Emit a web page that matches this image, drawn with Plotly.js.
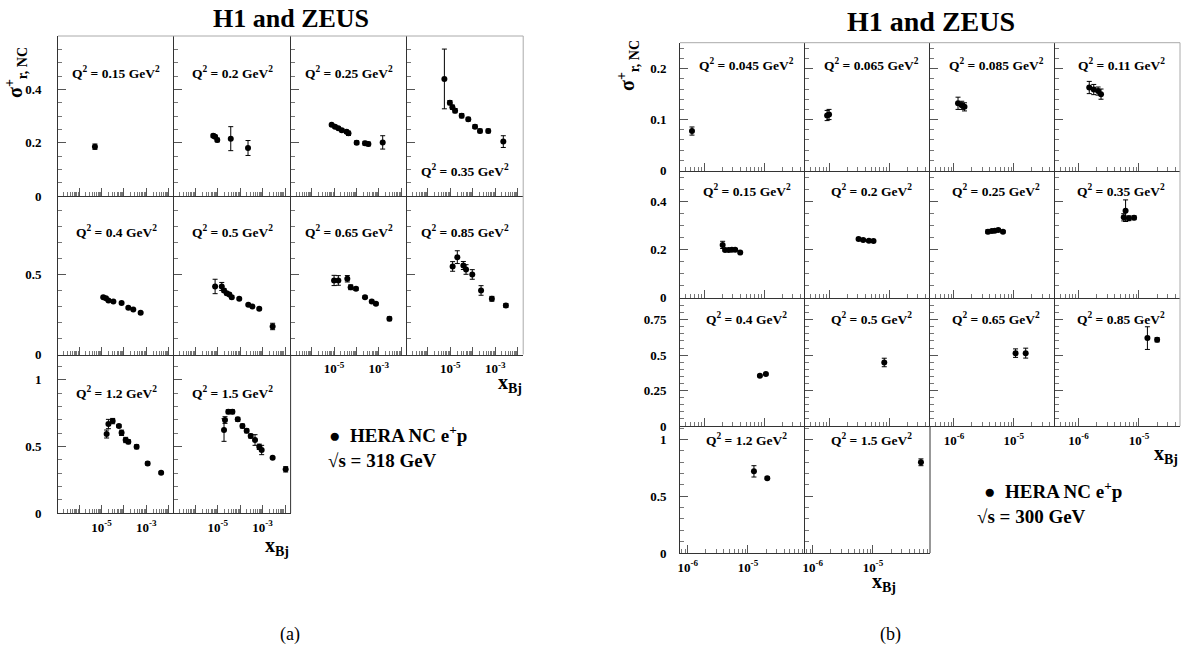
<!DOCTYPE html>
<html><head><meta charset="utf-8">
<script src="https://cdn.plot.ly/plotly-3.0.1.min.js"></script>
<style>html,body{margin:0;padding:0;background:#fff}#chart{width:1183px;height:652px}</style>
</head><body><div id="chart"></div>
<script>
// ---------- DATA : panel (a) sqrt(s)=318 GeV ----------
const a015_x=[5.1e-6], a015_y=[0.185], a015_e=[0.01];
const a02_x=[6.3e-6,7.6e-6,9.5e-6,3.8e-5,2.24e-4], a02_y=[0.226,0.222,0.21,0.215,0.18], a02_e=[0.006,0.006,0.007,0.045,0.028];
const a025_x=[7.8e-6,1.1e-5,1.55e-5,2.2e-5,3.6e-5,4.4e-5,1.02e-4,2.4e-4,3.4e-4,1.48e-3], a025_y=[0.267,0.26,0.254,0.247,0.241,0.235,0.2,0.198,0.195,0.201], a025_e=[0.005,0.005,0.005,0.006,0.006,0.008,0.007,0.007,0.007,0.025];
const a035_x=[5.4e-6,9.5e-6,1.23e-5,1.62e-5,3.2e-5,6.3e-5,1.26e-4,2.1e-4,4.9e-4,2.3e-3], a035_y=[0.439,0.35,0.333,0.32,0.301,0.288,0.26,0.244,0.244,0.204], a035_e=[0.112,0.008,0.008,0.008,0.008,0.007,0.007,0.007,0.007,0.022];
const a04_x=[1.2e-5,1.58e-5,2.04e-5,3.4e-5,7.9e-5,1.58e-4,2.63e-4,5.6e-4], a04_y=[0.358,0.352,0.338,0.331,0.321,0.292,0.281,0.26], a04_e=[0.006,0.006,0.006,0.006,0.006,0.006,0.006,0.006];
const a05_x=[7.6e-6,1.51e-5,1.9e-5,2.5e-5,3.3e-5,4.2e-5,9.1e-5,2.3e-4,3.5e-4,7.1e-4,2.8e-3], a05_y=[0.425,0.425,0.4,0.383,0.375,0.358,0.348,0.31,0.3,0.285,0.175], a05_e=[0.045,0.025,0.01,0.01,0.008,0.01,0.006,0.006,0.006,0.006,0.02];
const a065_x=[1.0e-5,1.55e-5,3.9e-5,5.5e-5,9.5e-5,2.4e-4,4.8e-4,7.4e-4,2.95e-3], a065_y=[0.4625,0.4625,0.473,0.42,0.41,0.358,0.331,0.317,0.223], a065_e=[0.032,0.03,0.02,0.015,0.01,0.008,0.008,0.008,0.012];
const a085_x=[1.26e-5,2.04e-5,3.8e-5,5.0e-5,9.5e-5,2.34e-4,7.1e-4,3.0e-3], a085_y=[0.55,0.608,0.556,0.531,0.5,0.4,0.348,0.306], a085_e=[0.03,0.04,0.025,0.03,0.03,0.03,0.015,0.012];
const a12_x=[1.7e-5,2.04e-5,3.16e-5,6.0e-5,7.9e-5,1.2e-4,1.58e-4,3.7e-4,1.15e-3,4.6e-3], a12_y=[0.593,0.668,0.69,0.653,0.602,0.548,0.535,0.497,0.372,0.302], a12_e=[0.03,0.035,0.02,0.01,0.02,0.02,0.015,0.015,0.012,0.008];
const a15_x=[1.9e-5,2.1e-5,2.95e-5,4.5e-5,7.8e-5,1.26e-4,1.95e-4,2.95e-4,4.6e-4,7.1e-4,9.1e-4,2.8e-3,1.07e-2], a15_y=[0.623,0.698,0.76,0.76,0.703,0.653,0.617,0.578,0.548,0.497,0.473,0.415,0.328], a15_e=[0.085,0.025,0.015,0.015,0.015,0.015,0.015,0.015,0.04,0.02,0.035,0.008,0.02];
// ---------- DATA : panel (b) sqrt(s)=300 GeV ----------
const b0045_x=[6.3e-7], b0045_y=[0.0775], b0045_e=[0.008];
const b0065_x=[9.3e-7,1.0e-6], b0065_y=[0.108,0.11], b0065_e=[0.01,0.01];
const b0085_x=[1.17e-6,1.35e-6,1.5e-6], b0085_y=[0.132,0.128,0.125], b0085_e=[0.012,0.008,0.008];
const b011_x=[1.5e-6,1.78e-6,2.1e-6,2.35e-6], b011_y=[0.163,0.159,0.156,0.15], b011_e=[0.012,0.01,0.008,0.01];
const b015_x=[2.04e-6,2.24e-6,2.57e-6,2.9e-6,3.3e-6,4.0e-6], b015_y=[0.22,0.199,0.199,0.2,0.2,0.188], b015_e=[0.015,0.005,0.005,0.005,0.005,0.005];
const b02_x=[3.1e-6,3.7e-6,4.6e-6,5.5e-6], b02_y=[0.245,0.24,0.2375,0.236], b02_e=[0.005,0.005,0.005,0.005];
const b025_x=[3.7e-6,4.3e-6,4.8e-6,5.5e-6,6.6e-6], b025_y=[0.275,0.278,0.279,0.282,0.275], b025_e=[0.008,0.006,0.005,0.005,0.005];
const b035_x=[6.0e-6,5.6e-6,6.8e-6,8.3e-6], b035_y=[0.3625,0.335,0.331,0.333], b035_e=[0.045,0.015,0.01,0.008];
const b04_x=[8.5e-6,1.07e-5], b04_y=[0.354,0.366], b04_e=[0.006,0.006];
const b05_x=[8.3e-6], b05_y=[0.448], b05_e=[0.03];
const b065_x=[1.07e-5,1.58e-5], b065_y=[0.514,0.514], b065_e=[0.03,0.035];
const b085_x=[1.38e-5,2.0e-5], b085_y=[0.62,0.608], b085_e=[0.08,0.015];
const b12_x=[1.26e-5,2.1e-5], b12_y=[0.72,0.66], b12_e=[0.05,0.012];
const b15_x=[6.3e-5], b15_y=[0.8], b15_e=[0.03];

// ---------- TEXT ----------
const title = 'H1 and ZEUS';
const legendA = ['HERA NC e<sup>+</sup>p', '\u221As = 318 GeV'];
const legendB = ['HERA NC e<sup>+</sup>p', '\u221As = 300 GeV'];

// ---------- PANELS ----------
const panels = [
 {g:'a',r:0,c:0,q:'0.15',x:a015_x,y:a015_y,e:a015_e},
 {g:'a',r:0,c:1,q:'0.2',x:a02_x,y:a02_y,e:a02_e},
 {g:'a',r:0,c:2,q:'0.25',x:a025_x,y:a025_y,e:a025_e},
 {g:'a',r:0,c:3,q:'0.35',x:a035_x,y:a035_y,e:a035_e,low:true},
 {g:'a',r:1,c:0,q:'0.4',x:a04_x,y:a04_y,e:a04_e},
 {g:'a',r:1,c:1,q:'0.5',x:a05_x,y:a05_y,e:a05_e},
 {g:'a',r:1,c:2,q:'0.65',x:a065_x,y:a065_y,e:a065_e},
 {g:'a',r:1,c:3,q:'0.85',x:a085_x,y:a085_y,e:a085_e},
 {g:'a',r:2,c:0,q:'1.2',x:a12_x,y:a12_y,e:a12_e},
 {g:'a',r:2,c:1,q:'1.5',x:a15_x,y:a15_y,e:a15_e},
 {g:'b',r:0,c:0,q:'0.045',x:b0045_x,y:b0045_y,e:b0045_e},
 {g:'b',r:0,c:1,q:'0.065',x:b0065_x,y:b0065_y,e:b0065_e},
 {g:'b',r:0,c:2,q:'0.085',x:b0085_x,y:b0085_y,e:b0085_e},
 {g:'b',r:0,c:3,q:'0.11',x:b011_x,y:b011_y,e:b011_e},
 {g:'b',r:1,c:0,q:'0.15',x:b015_x,y:b015_y,e:b015_e},
 {g:'b',r:1,c:1,q:'0.2',x:b02_x,y:b02_y,e:b02_e},
 {g:'b',r:1,c:2,q:'0.25',x:b025_x,y:b025_y,e:b025_e},
 {g:'b',r:1,c:3,q:'0.35',x:b035_x,y:b035_y,e:b035_e},
 {g:'b',r:2,c:0,q:'0.4',x:b04_x,y:b04_y,e:b04_e},
 {g:'b',r:2,c:1,q:'0.5',x:b05_x,y:b05_y,e:b05_e},
 {g:'b',r:2,c:2,q:'0.65',x:b065_x,y:b065_y,e:b065_e},
 {g:'b',r:2,c:3,q:'0.85',x:b085_x,y:b085_y,e:b085_e},
 {g:'b',r:3,c:0,q:'1.2',x:b12_x,y:b12_y,e:b12_e},
 {g:'b',r:3,c:1,q:'1.5',x:b15_x,y:b15_y,e:b15_e}
];

// ---------- LAYOUT GEOMETRY ----------
const W=1183, H=652;
const GEO = {
 a:{cols:[58,174.3,290.6,406.9,523.2], rows:[36,196,354.5,513]},
 b:{cols:[680,805,930,1054.5,1180], rows:[42.7,170.5,297.7,426,553]}
};
const YAX = {
 a:[{range:[0,0.6],tv:[0,0.2,0.4],tt:['0','0.2','0.4'],m:0.05},
    {range:[0,0.99],tv:[0,0.5],tt:['0','0.5'],m:0.1},
    {range:[0,1.19],tv:[0,0.5,1],tt:['0','0.5','1'],m:0.1}],
 b:[{range:[0,0.251],tv:[0,0.1,0.2],tt:['0','0.1','0.2'],m:0.02},
    {range:[0,0.53],tv:[0,0.2,0.4],tt:['0','0.2','0.4'],m:0.05},
    {range:[0,0.905],tv:[0,0.25,0.5,0.75],tt:['0','0.25','0.5','0.75'],m:0.05},
    {range:[0,1.12],tv:[0,0.5,1],tt:['0','0.5','1'],m:0.1}]
};
function minors(e0,e1){const v=[];for(let e=e0;e<=e1;e++)for(let k=2;k<=9;k++)v.push(k*Math.pow(10,e));return v;}
const XAX = {
 a:{range:[-6.94,-1.75],tv:[1e-6,1e-5,1e-4,1e-3,1e-2],tt:['','10<sup>-5</sup>','','10<sup>-3</sup>',''],mv:minors(-7,-2)},
 b:{range:[-6.4,-4.32],tv:[1e-6,1e-5],tt:['10<sup>-6</sup>','10<sup>-5</sup>'],mv:minors(-7,-5)},
 b4:{range:[-6.13,-4.05],tv:[1e-6,1e-5],tt:['10<sup>-6</sup>','10<sup>-5</sup>'],mv:minors(-7,-5)}
};
const xLabelCells = {a:['2,0','2,1','1,2','1,3'], b:['3,0','3,1','2,2','2,3']};

const FONT='Liberation Serif, Times New Roman, serif';
const tickFont={family:FONT,size:13,color:'#000',weight:'bold'};
const traces=[], layout={width:W,height:H,margin:{l:0,r:0,t:0,b:0},paper_bgcolor:'#fff',plot_bgcolor:'#fff',showlegend:false,annotations:[],shapes:[]};

panels.forEach((p,i)=>{
  const n=i+1, xs='x'+(n===1?'':n), ys='y'+(n===1?'':n);
  const xk='xaxis'+(n===1?'':n), yk='yaxis'+(n===1?'':n);
  const G=GEO[p.g];
  const L=G.cols[p.c], R=G.cols[p.c+1], T=G.rows[p.r], B=G.rows[p.r+1];
  const yc=YAX[p.g][p.r];
  const xc=(p.g==='b'&&p.r===3)?XAX.b4:XAX[p.g];
  const showX=xLabelCells[p.g].includes(p.r+','+p.c);
  traces.push({type:'scatter',mode:'markers',x:p.x,y:p.y,xaxis:xs,yaxis:ys,
    marker:{color:'#000',size:6},
    error_y:{type:'data',array:p.e,visible:true,color:'#000',thickness:1,width:2.5},
    hoverinfo:'skip'});
  layout[xk]={type:'log',domain:[L/W,R/W],range:xc.range,anchor:ys,
    tickmode:'array',tickvals:xc.tv,ticktext:showX?xc.tt:xc.tv.map(()=>''),
    ticks:'inside',ticklen:8,tickcolor:'#555',tickwidth:1,
    minor:{tickmode:'array',tickvals:xc.mv,ticks:'inside',ticklen:4,tickcolor:'#777',tickwidth:1},
    showline:true,linecolor:'#333',linewidth:1,showgrid:false,zeroline:false,
    tickfont:tickFont,ticklabelstandoff:2,fixedrange:true};
  layout[yk]={domain:[1-B/H,1-T/H],range:yc.range,anchor:xs,
    tickmode:'array',tickvals:yc.tv,ticktext:p.c===0?yc.tt:yc.tv.map(()=>''),
    ticks:'inside',ticklen:8,tickcolor:'#555',tickwidth:1,
    minor:{dtick:yc.m,tick0:0,ticks:'inside',ticklen:4,tickcolor:'#777',tickwidth:1},
    showline:true,linecolor:'#333',linewidth:1,showgrid:false,zeroline:false,
    tickfont:tickFont,ticklabelstandoff:p.g==='a'?13:10,fixedrange:true};
  // Q^2 label
  const cx=(L+R)/2+(p.g==='b'?4:0);
  let cy;
  if(p.g==='a') cy = p.low ? 170 : T+[36,35,38][p.r];
  else cy = T+[22,20,21,13][p.r];
  layout.annotations.push({xref:'paper',yref:'paper',x:cx/W,y:1-cy/H,xanchor:'center',yanchor:'middle',showarrow:false,
    text:'<b>Q<sup>2</sup> = '+p.q+' GeV<sup>2</sup></b>',font:{family:FONT,size:13.5,color:'#000'}});
});

// frames (outer light-grey top / right edges, closing lines of bottom rows)
function seg(x0,y0,x1,y1,col){layout.shapes.push({type:'line',xref:'paper',yref:'paper',x0:x0/W,y0:1-y0/H,x1:x1/W,y1:1-y1/H,line:{color:col,width:1}});}
seg(58,36,523.2,36,'#aaa'); seg(523.2,36,523.2,354.5,'#aaa'); seg(290.6,354.5,290.6,513,'#333');
seg(680,42.7,1180,42.7,'#aaa'); seg(1180,42.7,1180,426,'#aaa'); seg(930,426,930,553,'#333');

function ann(x,y,text,size,opts){layout.annotations.push(Object.assign({xref:'paper',yref:'paper',x:x/W,y:1-y/H,xanchor:'center',yanchor:'middle',showarrow:false,text:text,font:{family:FONT,size:size,color:'#000'}},opts||{}));}
ann(291,19,'<b>'+title+'</b>',26);
ann(931,21,'<b>'+title+'</b>',28);
ann(16,72,'<b>\u03c3<sup>+</sup><sub>r, NC</sub></b>',20,{textangle:-90});
ann(628,66,'<b>\u03c3<sup>+</sup><sub>r, NC</sub></b>',20,{textangle:-90});
ann(291,546,'<b>x<sub>Bj</sub></b>',20,{xanchor:'right'});
ann(524,383,'<b>x<sub>Bj</sub></b>',20,{xanchor:'right'});
ann(1180,454,'<b>x<sub>Bj</sub></b>',20,{xanchor:'right'});
ann(898,582,'<b>x<sub>Bj</sub></b>',20,{xanchor:'right'});
ann(327,434,'<b>\u25CF&nbsp;&nbsp;'+legendA[0]+'</b>',19,{xanchor:'left'});
ann(326,460,'<b>'+legendA[1]+'</b>',19,{xanchor:'left'});
ann(982,490,'<b>\u25CF&nbsp;&nbsp;'+legendB[0]+'</b>',19,{xanchor:'left'});
ann(975,516,'<b>'+legendB[1]+'</b>',19,{xanchor:'left'});
ann(290,634,'(a)',18);
ann(890,634,'(b)',18);

Plotly.newPlot('chart',traces,layout,{staticPlot:true,displayModeBar:false});
</script></body></html>
